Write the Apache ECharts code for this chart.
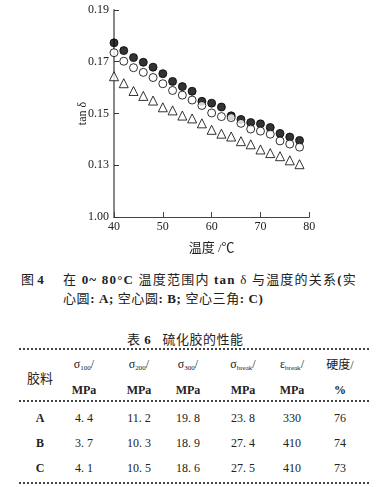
<!DOCTYPE html>
<html><head><meta charset="utf-8">
<script src="https://cdn.jsdelivr.net/npm/echarts@6/dist/echarts.min.js"></script>
<style>
html,body{margin:0;padding:0;background:#fff;}
#wrap{position:relative;width:386px;height:487px;overflow:hidden;font-family:"Liberation Serif","Noto Sans CJK SC",serif;color:#222;}
#chart{position:absolute;left:0;top:0;width:386px;height:260px;}
.t{position:absolute;white-space:nowrap;}
.c{position:absolute;white-space:nowrap;transform:translate(-50%,-50%);font-size:12px;}
.rule{position:absolute;left:19px;width:350px;height:0;border-top:2px dotted #444;}
b{font-weight:bold;}
sub{font-size:7px;vertical-align:-2px;}
</style></head>
<body><div id="wrap"><div id="chart"></div><div id="txt"></div></div>
<script>
// ---- data ----
const temps = [40,42,44,46,48,50,52,54,56,58,60,62,64,66,68,70,72,74,76,78];
const seriesA = [0.1773,0.1743,0.1716,0.1698,0.1679,0.1654,0.1624,0.1604,0.1586,0.1547,0.1540,0.1525,0.1491,0.1477,0.1465,0.1460,0.1446,0.1423,0.1409,0.1396];
const seriesB = [0.1735,0.1702,0.1677,0.1659,0.1639,0.1615,0.1589,0.1571,0.1552,0.1531,0.1502,0.1488,0.1484,0.1462,0.1440,0.1432,0.1420,0.1394,0.1382,0.1370];
const seriesC = [0.1644,0.1617,0.1587,0.1568,0.1550,0.1524,0.1512,0.1492,0.1481,0.1462,0.1437,0.1422,0.1411,0.1393,0.1381,0.1361,0.1347,0.1335,0.1319,0.1304];
const yTickLabels = ['1.00','0.13','0.15','0.17','0.19'];
const xTickLabels = ['40','50','60','70','80'];
const tableCols = ['胶料','σ100','σ200','σ300','σbreak','εbreak','硬度'];
const tableRows = [
  ['A','4. 4','11. 2','19. 8','23. 8','330','76'],
  ['B','3. 7','10. 3','18. 9','27. 4','410','74'],
  ['C','4. 1','10. 5','18. 6','27. 5','410','73']
];

const pair = arr => arr.map((v,i)=>[temps[i],v]);
const chart = echarts.init(document.getElementById('chart'));
const serifFont = '"Liberation Serif","Noto Sans CJK SC",serif';
chart.setOption({
  animation:false,
  grid:{left:114,top:10,width:195.3,height:213.3},
  xAxis:{type:'value',min:40,max:80,interval:10,
    name:'温度 /℃',nameLocation:'middle',nameGap:25,nameMoveOverlap:false,
    nameTextStyle:{fontFamily:serifFont,fontSize:13,color:'#222'},
    axisLine:{lineStyle:{color:'#444',width:1}},
    axisTick:{inside:true,length:5,lineStyle:{color:'#444'}},
    axisLabel:{fontFamily:serifFont,fontSize:12,color:'#222',margin:4,
      formatter:v=>xTickLabels[Math.round((v-40)/10)]},
    splitLine:{show:false}},
  yAxis:{type:'value',min:0.11,max:0.19,interval:0.02,
    name:'tan δ',nameLocation:'middle',nameGap:25,nameRotate:90,nameMoveOverlap:false,
    nameTextStyle:{fontFamily:serifFont,fontSize:12,color:'#222'},
    axisLine:{lineStyle:{color:'#888',width:2}},
    axisTick:{inside:true,length:5,lineStyle:{color:'#333'}},
    axisLabel:{fontFamily:serifFont,fontSize:12,color:'#222',margin:5,
      formatter:v=>yTickLabels[Math.round((v-0.11)/0.02)]},
    splitLine:{show:false}},
  series:[
    {type:'scatter',data:pair(seriesA),symbol:'circle',symbolSize:8,
      itemStyle:{color:'#000',borderColor:'#000',borderWidth:1}},
    {type:'scatter',data:pair(seriesB),symbol:'circle',symbolSize:8,
      itemStyle:{color:'#fff',borderColor:'#000',borderWidth:1}},
    {type:'scatter',data:pair(seriesC),symbol:'triangle',symbolSize:9,
      itemStyle:{color:'#fff',borderColor:'#000',borderWidth:1}}
  ]
});

// ---- caption and table ----
const txt = document.getElementById('txt');
let html = '';
html += '<div class="t" style="left:21px;top:269px;font-size:13px;">图 <b>4</b></div>';
html += '<div class="t" style="left:63px;top:269px;font-size:13px;letter-spacing:1.2px;">在 <b>0~ 80°C</b> 温度范围内 <b>tan</b> δ 与温度的关系<b>(</b>实</div>';
html += '<div class="t" style="left:63px;top:288px;font-size:13px;letter-spacing:0.6px;">心圆<b>: A;</b> 空心圆<b>: B;</b> 空心三角<b>: C)</b></div>';
html += '<div class="t" style="left:127px;top:329px;font-size:13px;letter-spacing:0.5px;">表 <b>6</b>&nbsp;&nbsp;&nbsp;硫化胶的性能</div>';
html += '<div class="rule" style="top:348px;"></div>';
html += '<div class="rule" style="top:400px;"></div>';
html += '<div class="rule" style="top:482px;"></div>';
const colX = [40,84,139,188,243,292,340];
const head1 = [null,
  'σ<sub>100</sub>/','σ<sub>200</sub>/','σ<sub>300</sub>/','σ<sub>break</sub>/','ε<sub>break</sub>/','硬度/'];
const head2 = [null,'MPa','MPa','MPa','MPa','MPa','%'];
html += `<div class="c" style="left:${colX[0]}px;top:377px;font-size:13px;">${tableCols[0]}</div>`;
for(let i=1;i<7;i++){
  html += `<div class="c" style="left:${colX[i]}px;top:364px;">${head1[i]}</div>`;
  html += `<div class="c" style="left:${colX[i]}px;top:390px;font-weight:bold;">${head2[i]}</div>`;
}
const rowY=[418,443,468];
tableRows.forEach((r,ri)=>{
  r.forEach((v,ci)=>{
    html += `<div class="c" style="left:${colX[ci]}px;top:${rowY[ri]}px;${ci===0?'font-weight:bold;':''}">${v}</div>`;
  });
});
txt.innerHTML = html;
</script></body></html>
